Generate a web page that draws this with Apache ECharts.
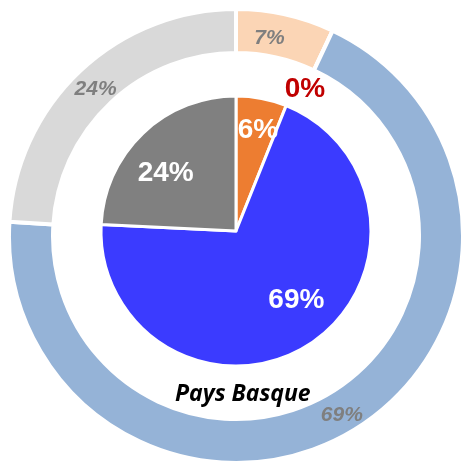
<!DOCTYPE html>
<html>
<head>
<meta charset="utf-8">
<script src="https://cdn.jsdelivr.net/npm/echarts@6/dist/echarts.min.js"></script>
<style>
  html, body { margin: 0; padding: 0; background: #fff; }
  #chart { width: 462px; height: 462px; }
</style>
</head>
<body>
<div id="chart"></div>
<script>
// outer ring (the 0 item sits between the first two slices)
const outerNames = ['A', 'B', 'C', 'D']
const outerValues = [7, 0, 69, 24]
const outerColors = ['#FBD5B5', '#C00000', '#95B3D7', '#D9D9D9']

// inner pie
const innerNames = ['A', 'C', 'D']
const innerValues = [6, 69, 24]
const innerColors = ['#ED7D31', '#3B3BFF', '#808080']

const title = 'Pays Basque'

const ringCenter = [236, 236]
const pieCenter = [236, 231]
// small nudges so labels sit where the original placed them
const outerLabelOffsets = [[-12, 5], [0, 0], [0, 0], [2, 5]]
const innerLabelOffsets = [[3, -2], [6, -15], [-1, 15]]

const chart = echarts.init(document.getElementById('chart'))

chart.setOption({
  animation: false,
  title: {
    text: title,
    left: 170,
    top: 378,
    textStyle: {
      fontFamily: 'Open Sans',
      fontStyle: 'italic',
      fontWeight: 'bold',
      fontSize: 23,
      color: '#000'
    }
  },
  series: [
    {
      type: 'pie',
      center: ringCenter,
      radius: [183, 227],
      startAngle: 90,
      silent: true,
      itemStyle: { borderColor: '#fff', borderWidth: 4 },
      label: {
        show: true,
        position: 'inside',
        formatter: '{c}%',
        color: '#7F7F7F',
        fontFamily: 'Liberation Sans',
        fontWeight: 'bold',
        fontStyle: 'italic',
        fontSize: 21
      },
      labelLine: { show: false },
      data: outerValues.map((v, i) => ({
        name: outerNames[i],
        value: v,
        itemStyle: { color: outerColors[i] },
        label: { show: v > 0, offset: outerLabelOffsets[i] }
      }))
    },
    {
      // 0% label halfway between pie and ring
      type: 'pie',
      center: ringCenter,
      radius: [140, 178],
      startAngle: 90,
      silent: true,
      itemStyle: { color: 'transparent', borderWidth: 0 },
      labelLine: { show: false },
      data: outerValues.map((v, i) => ({
        name: outerNames[i],
        value: v,
        label: {
          show: v === 0,
          position: 'inside',
          formatter: '{c}%',
          color: outerColors[i],
          fontFamily: 'Liberation Sans',
          fontWeight: 'bold',
          fontSize: 28
        }
      }))
    },
    {
      type: 'pie',
      center: pieCenter,
      radius: [0, 135],
      startAngle: 90,
      silent: true,
      itemStyle: { borderColor: '#fff', borderWidth: 3 },
      label: { show: false },
      labelLine: { show: false },
      data: innerValues.map((v, i) => ({
        name: innerNames[i],
        value: v,
        itemStyle: { color: innerColors[i] }
      }))
    },
    {
      // inner labels pushed out towards the rim
      type: 'pie',
      center: pieCenter,
      radius: [60, 135],
      startAngle: 90,
      silent: true,
      itemStyle: { color: 'transparent', borderWidth: 0 },
      label: {
        show: true,
        position: 'inside',
        formatter: '{c}%',
        color: '#fff',
        fontFamily: 'Liberation Sans',
        fontWeight: 'bold',
        fontSize: 28
      },
      labelLine: { show: false },
      data: innerValues.map((v, i) => ({
        name: innerNames[i],
        value: v,
        label: { offset: innerLabelOffsets[i] }
      }))
    }
  ]
})
</script>
</body>
</html>
